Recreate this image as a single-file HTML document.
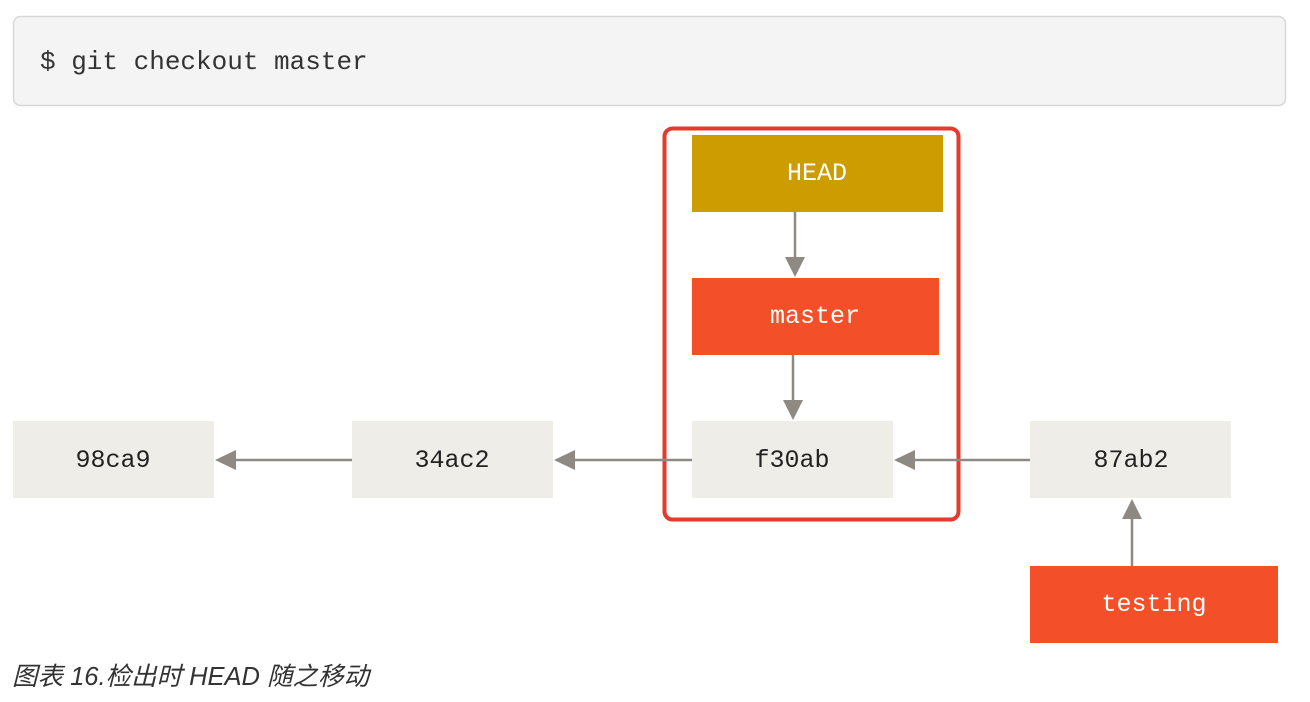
<!DOCTYPE html>
<html><head><meta charset="utf-8"><style>
html,body{margin:0;padding:0;background:#fff;width:1310px;height:702px;overflow:hidden}
</style></head><body>
<svg width="1310" height="702" xmlns="http://www.w3.org/2000/svg">
<rect x="13.5" y="16.5" width="1272" height="89" rx="7" fill="#f4f4f4" stroke="#d8d8d8" stroke-width="1.5"/>
<text x="40" y="69" font-family="Liberation Mono, monospace" font-size="26" fill="#333">$ git checkout master</text>

<rect x="664.5" y="128.5" width="294" height="391" rx="8" fill="none" stroke="#e63a2e" stroke-width="4"/>

<g font-family="Liberation Mono, monospace" font-size="25" text-anchor="middle">
<rect x="692" y="135" width="251" height="77" fill="#cc9c00"/>
<text x="817" y="180" fill="#fff">HEAD</text>
<rect x="692" y="278" width="247" height="77" fill="#f34f29"/>
<text x="815" y="323" fill="#fff">master</text>
<rect x="692" y="421" width="201" height="77" fill="#eeede7"/>
<text x="792" y="467" fill="#222">f30ab</text>
<rect x="13" y="421" width="201" height="77" fill="#eeede7"/>
<text x="113" y="467" fill="#222">98ca9</text>
<rect x="352" y="421" width="201" height="77" fill="#eeede7"/>
<text x="452" y="467" fill="#222">34ac2</text>
<rect x="1030" y="421" width="201" height="77" fill="#eeede7"/>
<text x="1131" y="467" fill="#222">87ab2</text>
<rect x="1030" y="566" width="248" height="77" fill="#f34f29"/>
<text x="1154" y="611" fill="#fff">testing</text>
</g>

<g stroke="#8e8a83" stroke-width="2.5" fill="none">
<line x1="795" y1="212" x2="795" y2="260"/>
<line x1="793" y1="355" x2="793" y2="403"/>
<line x1="352" y1="460" x2="234" y2="460"/>
<line x1="692" y1="460" x2="573" y2="460"/>
<line x1="1030" y1="460" x2="913" y2="460"/>
<line x1="1132" y1="566" x2="1132" y2="517"/>
</g>
<g fill="#8e8a83">
<polygon points="785,257 805,257 795,277"/>
<polygon points="783,400 803,400 793,420"/>
<polygon points="236,450 236,470 215,460"/>
<polygon points="575,450 575,470 554,460"/>
<polygon points="915,450 915,470 894,460"/>
<polygon points="1122,519 1142,519 1132,499"/>
</g>

<text x="12" y="685" font-family="Liberation Sans, Noto Sans CJK SC, sans-serif" font-style="italic" font-size="25.5" fill="#333">图表 16.检出时 HEAD 随之移动</text>
</svg>
</body></html>
